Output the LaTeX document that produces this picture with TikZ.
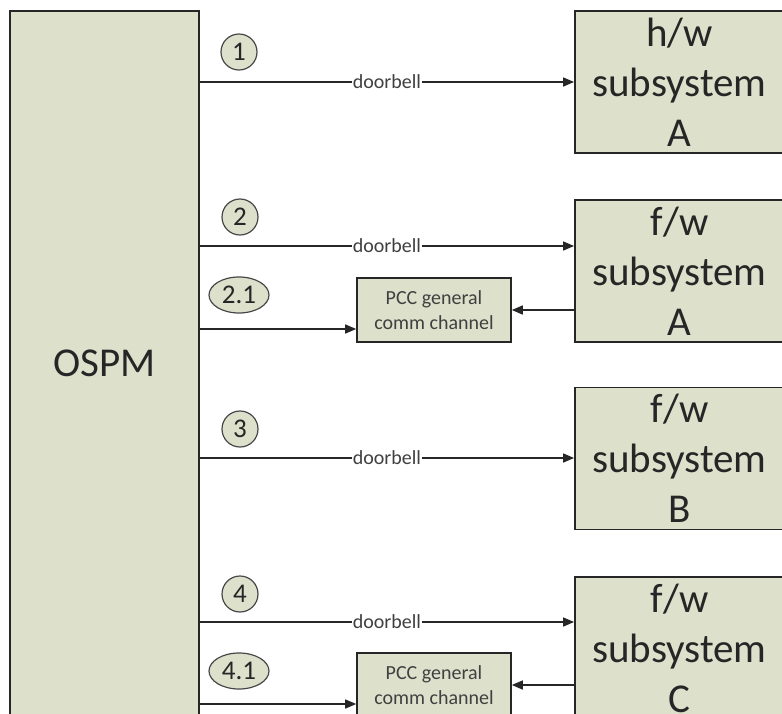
\documentclass[tikz,border=0pt]{standalone}
\usepackage{fontspec}
\setmainfont{Carlito}
\usetikzlibrary{arrows.meta,shapes.geometric}
\definecolor{boxfill}{RGB}{221,224,203}
\definecolor{ink}{RGB}{38,38,38}
\begin{document}
\begin{tikzpicture}[x=1pt,y=-1pt,
  bigbox/.style={draw=ink, line width=1.8pt, fill=boxfill, inner sep=0pt, align=center,
    font=\fontsize{41}{50}\selectfont, text=black!85},
  subbox/.style={bigbox, minimum width=209pt, minimum height=142pt},
  pccbox/.style={draw=ink, line width=1.6pt, fill=boxfill, minimum width=154pt, minimum height=64pt,
    inner sep=0pt, align=center, font=\fontsize{20}{25}\selectfont, text=black!75},
  num/.style={draw=ink!85, line width=1.2pt, fill=boxfill, circle, minimum size=36pt, inner sep=0pt,
    font=\fontsize{27}{27}\selectfont, text=black!85},
  numell/.style={num, ellipse, minimum width=60pt, minimum height=36pt},
  conn/.style={draw=ink, line width=1.5pt, -{Triangle[length=11pt,width=9pt]}},
  bell/.style={fill=white, inner sep=1pt, font=\fontsize{20}{20}\selectfont, text=black!75}]
\useasboundingbox (0,0) rectangle (782,713);
\clip (0,0) rectangle (782,713);

% main boxes
\node[bigbox, minimum width=189pt, minimum height=704pt] (ospm) at (104.5,363) {OSPM};
\node[subbox] (hwA) at (679.5,82) {h/w\\subsystem\\A};
\node[subbox] (fwA) at (679.5,271) {f/w\\subsystem\\A};
\node[subbox] (fwB) at (679.5,458.5) {f/w\\subsystem\\B};
\node[subbox] (fwC) at (679.5,648) {f/w\\subsystem\\C};

% PCC channel boxes
\node[pccbox] (pccA) at (434,310) {PCC general\\comm channel};
\node[pccbox] (pccC) at (434,685) {PCC general\\comm channel};

% step numbers
\node[num] (n1) at (239,52) {1};
\node[num] (n2) at (240,217) {2};
\node[numell] (n21) at (239,295) {2.1};
\node[num] (n3) at (240,429) {3};
\node[num] (n4) at (240,594) {4};
\node[numell] (n41) at (239,671) {4.1};

% row coordinates
\coordinate (r1) at (0,82);
\coordinate (r2) at (0,246);
\coordinate (r21) at (0,329);
\coordinate (r3) at (0,458);
\coordinate (r4) at (0,622);
\coordinate (r41) at (0,704);

% connectors
\draw[conn] (ospm.east |- r1) -- node[bell]{doorbell} (hwA.west |- r1);
\draw[conn] (ospm.east |- r2) -- node[bell]{doorbell} (fwA.west |- r2);
\draw[conn] (ospm.east |- r21) -- (pccA.west |- r21);
\draw[conn] (fwA.west |- pccA.east) -- (pccA.east);
\draw[conn] (ospm.east |- r3) -- node[bell]{doorbell} (fwB.west |- r3);
\draw[conn] (ospm.east |- r4) -- node[bell]{doorbell} (fwC.west |- r4);
\draw[conn] (ospm.east |- r41) -- (pccC.west |- r41);
\draw[conn] (fwC.west |- pccC.east) -- (pccC.east);
\end{tikzpicture}
\end{document}
